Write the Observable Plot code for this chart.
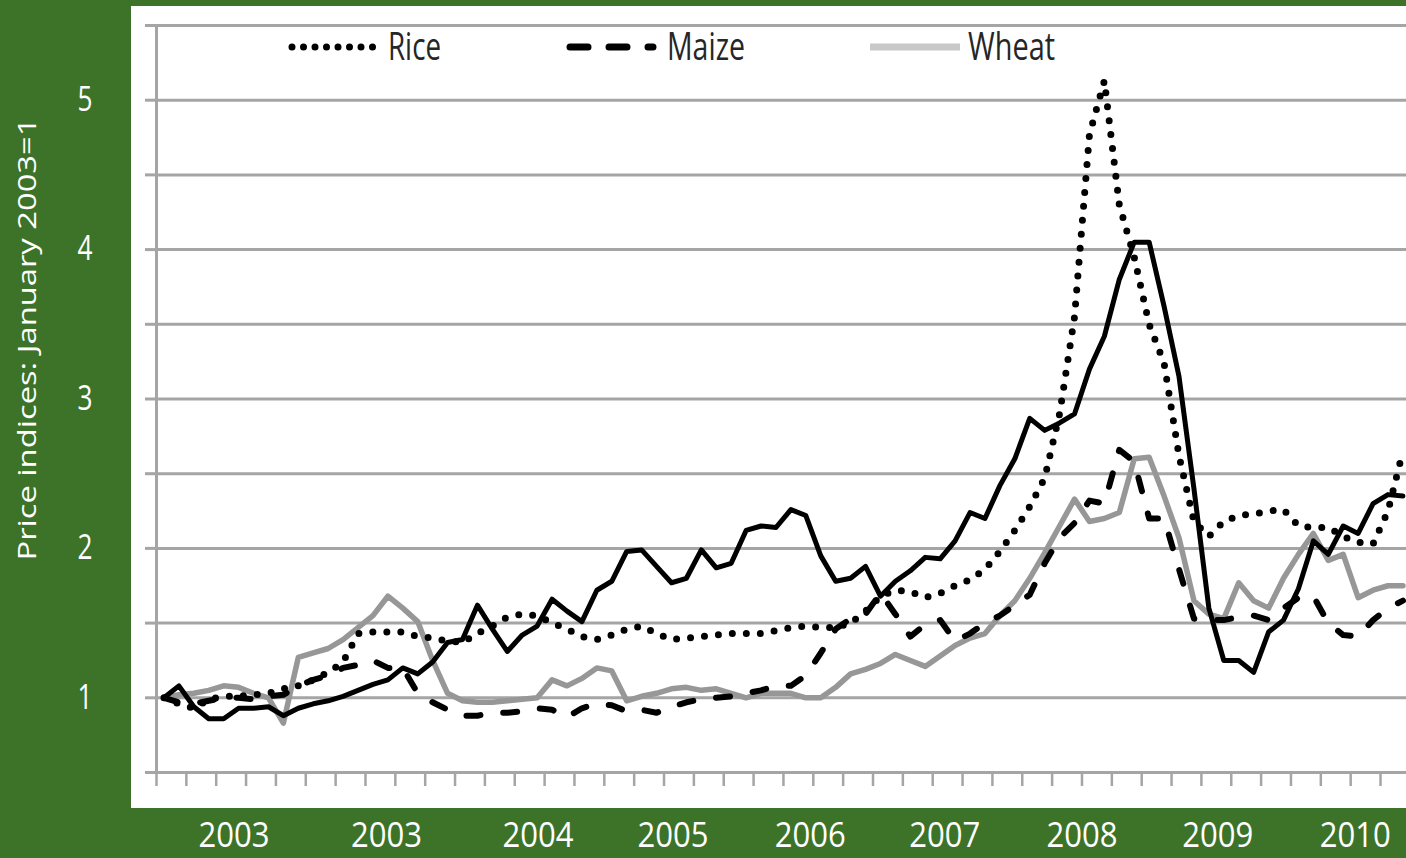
<!DOCTYPE html>
<html>
<head>
<meta charset="utf-8">
<script src="https://cdn.jsdelivr.net/npm/d3@7"></script>
<script src="https://cdn.jsdelivr.net/npm/@observablehq/plot@0.6"></script>
<style>
  html, body { margin: 0; padding: 0; background: #3d7329; }
  #wrap { position: relative; width: 1406px; height: 858px; overflow: hidden; background: #3d7329; }
  #panel { position: absolute; left: 131px; top: 6px; width: 1275px; height: 802px; background: #ffffff; }
  #chart { position: absolute; left: 0; top: 0; }
  #legend { position: absolute; left: 0; top: 0; }
</style>
</head>
<body>
<div id="wrap">
  <div id="panel"></div>
  <div id="chart"></div>
  <svg id="legend" width="1406" height="80"></svg>
</div>
<script>
// Monthly price indices, January 2003 = 1 (index 0 = Jan 2003)
const rice = [
  1.00, 0.96, 0.93, 0.99, 1.01, 1.01, 1.02, 1.03, 1.06, 1.08,
  1.12, 1.17, 1.24, 1.43, 1.44, 1.44, 1.44, 1.41, 1.40, 1.38,
  1.37, 1.43, 1.48, 1.54, 1.56, 1.55, 1.50, 1.46, 1.41, 1.39,
  1.42, 1.46, 1.48, 1.43, 1.39, 1.40, 1.41, 1.42, 1.43, 1.43,
  1.43, 1.45, 1.47, 1.48, 1.47, 1.47, 1.50, 1.58, 1.68, 1.72,
  1.71, 1.67, 1.70, 1.75, 1.79, 1.86, 1.98, 2.12, 2.28, 2.47,
  2.90, 3.55, 4.77, 5.13, 4.30, 3.95, 3.50, 3.24, 2.62, 2.18,
  2.08, 2.18, 2.22, 2.23, 2.25, 2.26, 2.15, 2.14, 2.14, 2.08,
  2.04, 2.03, 2.25, 2.65
];
const maize = [
  1.00, 0.97, 0.96, 0.98, 1.00, 1.00, 0.99, 1.01, 1.02, 1.08,
  1.12, 1.15, 1.20, 1.22, 1.25, 1.20, 1.20, 1.03, 0.97, 0.92,
  0.88, 0.88, 0.90, 0.90, 0.91, 0.93, 0.92, 0.87, 0.93, 0.96,
  0.95, 0.91, 0.92, 0.90, 0.94, 0.97, 0.99, 1.00, 1.01, 1.03,
  1.05, 1.08, 1.08, 1.15, 1.30, 1.46, 1.53, 1.56, 1.70, 1.56,
  1.41, 1.49, 1.52, 1.38, 1.43, 1.50, 1.55, 1.62, 1.69, 1.90,
  2.07, 2.17, 2.32, 2.30, 2.66, 2.58, 2.20, 2.20, 1.86, 1.53,
  1.52, 1.52, 1.54, 1.55, 1.52, 1.60, 1.67, 1.68, 1.50, 1.42,
  1.41, 1.52, 1.60, 1.65
];
const wheat = [
  1.00, 1.02, 1.03, 1.05, 1.08, 1.07, 1.03, 1.00, 0.83, 1.27,
  1.30, 1.33, 1.39, 1.47, 1.55, 1.68, 1.60, 1.51, 1.25, 1.03,
  0.98, 0.97, 0.97, 0.98, 0.99, 1.00, 1.12, 1.08, 1.13, 1.20,
  1.18, 0.98, 1.01, 1.03, 1.06, 1.07, 1.05, 1.06, 1.03, 1.00,
  1.03, 1.03, 1.03, 1.00, 1.00, 1.07, 1.16, 1.19, 1.23, 1.29,
  1.25, 1.21, 1.28, 1.35, 1.40, 1.43, 1.55, 1.65, 1.80, 1.97,
  2.15, 2.33, 2.18, 2.20, 2.24, 2.60, 2.61, 2.35, 2.07, 1.65,
  1.56, 1.53, 1.77, 1.65, 1.60, 1.80, 1.96, 2.10, 1.92, 1.96,
  1.67, 1.72, 1.75, 1.75
];
// Fourth series drawn as a solid black line (no legend entry in the original)
const unlabeled = [
  1.00, 1.08, 0.94, 0.86, 0.86, 0.93, 0.93, 0.94, 0.88, 0.93,
  0.96, 0.98, 1.01, 1.05, 1.09, 1.12, 1.20, 1.16, 1.24, 1.37,
  1.39, 1.62, 1.46, 1.31, 1.42, 1.48, 1.66, 1.58, 1.51, 1.72,
  1.78, 1.98, 1.99, 1.88, 1.77, 1.80, 1.99, 1.87, 1.90, 2.12,
  2.15, 2.14, 2.26, 2.22, 1.95, 1.78, 1.80, 1.88, 1.68, 1.78,
  1.85, 1.94, 1.93, 2.05, 2.24, 2.20, 2.42, 2.60, 2.87, 2.79,
  2.84, 2.90, 3.20, 3.42, 3.80, 4.05, 4.05, 3.62, 3.15, 2.40,
  1.60, 1.25, 1.25, 1.17, 1.44, 1.52, 1.73, 2.05, 1.96, 2.15,
  2.10, 2.30, 2.36, 2.35
];

const xTickLabels = ["2003", "2003", "2004", "2005", "2006", "2007", "2008", "2009", "2010"];
const xTickPos = [4.7, 14.9, 25.05, 34.1, 43.3, 52.3, 61.5, 70.6, 79.8];
const yTickLabels = [1, 2, 3, 4, 5];
const yGridValues = [0.5, 1, 1.5, 2, 2.5, 3, 3.5, 4, 4.5, 5, 5.5];
const yTitle = "Price indices: January 2003=1";
const legendLabels = ["Rice", "Maize", "Wheat"];

// long-format table
const seriesList = [
  {name: "Wheat", values: wheat},
  {name: "Maize", values: maize},
  {name: "Unlabeled", values: unlabeled},
  {name: "Rice", values: rice}
];
const rows = seriesList.flatMap(s => s.values.map((v, i) => ({series: s.name, month: i, value: v})));
const of = name => rows.filter(d => d.series === name);

const gray = "#a5a5a5";
const xDomain = [-0.5, 83.24];
const minorTicks = d3.range(-0.5, 83, 2);
const FONT = "'Open Sans', 'DejaVu Sans', sans-serif";

const chart = Plot.plot({
  width: 1406,
  height: 858,
  marginLeft: 156,
  marginRight: 0,
  marginTop: 25,
  marginBottom: 86,
  style: {background: "transparent", fontFamily: FONT, overflow: "visible"},
  x: {domain: xDomain, axis: null, label: null},
  y: {domain: [0.5, 5.5], axis: null, label: null},
  marks: [
    Plot.gridY(yGridValues, {stroke: gray, strokeOpacity: 1, strokeWidth: 3}),
    Plot.axisY(yGridValues, {label: null, tickSize: 11, stroke: gray, strokeOpacity: 1, strokeWidth: 3, tickFormat: () => ""}),
    Plot.ruleX([xDomain[0]], {y1: 0.5, y2: 5.5, stroke: gray, strokeWidth: 3}),
    Plot.axisX(minorTicks, {label: null, tickSize: 14, stroke: gray, strokeOpacity: 1, strokeWidth: 2.5, tickFormat: () => ""}),
    Plot.axisX(xTickPos, {
      label: null, tickSize: 0, tickPadding: 50, fill: "white", fontSize: 34, fontFamily: FONT,
      tickFormat: d => xTickLabels[xTickPos.indexOf(d)]
    }),
    Plot.axisY(yTickLabels, {
      label: null, tickSize: 0, tickPadding: 64, fill: "white", fontSize: 34, fontFamily: FONT,
      tickFormat: d => String(d)
    }),
    Plot.text([yTitle], {
      text: d => d, frameAnchor: "left", rotate: -90, dx: -129, dy: -60,
      textAnchor: "middle", lineAnchor: "middle", fill: "white", fontSize: 26, fontFamily: FONT
    }),
    Plot.line(of("Wheat"), {x: "month", y: "value", stroke: "#979797", strokeWidth: 5.5, strokeLinejoin: "round"}),
    Plot.line(of("Maize"), {x: "month", y: "value", stroke: "#000", strokeWidth: 6, strokeDasharray: "14 23", strokeLinecap: "round", strokeLinejoin: "round"}),
    Plot.line(of("Unlabeled"), {x: "month", y: "value", stroke: "#000", strokeWidth: 5, strokeLinejoin: "round"}),
    Plot.line(of("Rice"), {x: "month", y: "value", stroke: "#000", strokeWidth: 7, strokeDasharray: "0 14", strokeLinecap: "round"})
  ]
});
document.getElementById("chart").appendChild(chart);

// condense the label glyphs to the proportions of the original
chart.querySelectorAll("text").forEach(t => {
  const s = t.textContent;
  let len = null;
  if (/^[1-5]$/.test(s)) len = 15;
  else if (/^20\d\d$/.test(s)) len = 71;
  else if (s === yTitle) len = 443;
  if (len) { t.setAttribute("textLength", len); t.setAttribute("lengthAdjust", "spacingAndGlyphs"); }
});

// legend (inside the plot area, top)
const leg = d3.select("#legend");
const legendStyle = [
  {sx1: 292, sx2: 373, stroke: "#000", dash: "0 11.5", cap: "round", tx: 388, tl: 53},
  {sx1: 570, sx2: 653, stroke: "#000", dash: "18 21", cap: "round", tx: 667, tl: 78},
  {sx1: 870, sx2: 960, stroke: "#c8c8c8", dash: null, cap: "butt", tx: 968, tl: 87}
];
legendLabels.forEach((lab, i) => {
  const st = legendStyle[i];
  leg.append("line")
    .attr("x1", st.sx1).attr("x2", st.sx2).attr("y1", 47).attr("y2", 47)
    .attr("stroke", st.stroke).attr("stroke-width", 7)
    .attr("stroke-linecap", st.cap)
    .attr("stroke-dasharray", st.dash);
  leg.append("text")
    .attr("x", st.tx).attr("y", 60)
    .attr("font-family", FONT).attr("font-size", 39).attr("fill", "#262626")
    .attr("textLength", st.tl).attr("lengthAdjust", "spacingAndGlyphs")
    .text(lab);
});
</script>
</body>
</html>
